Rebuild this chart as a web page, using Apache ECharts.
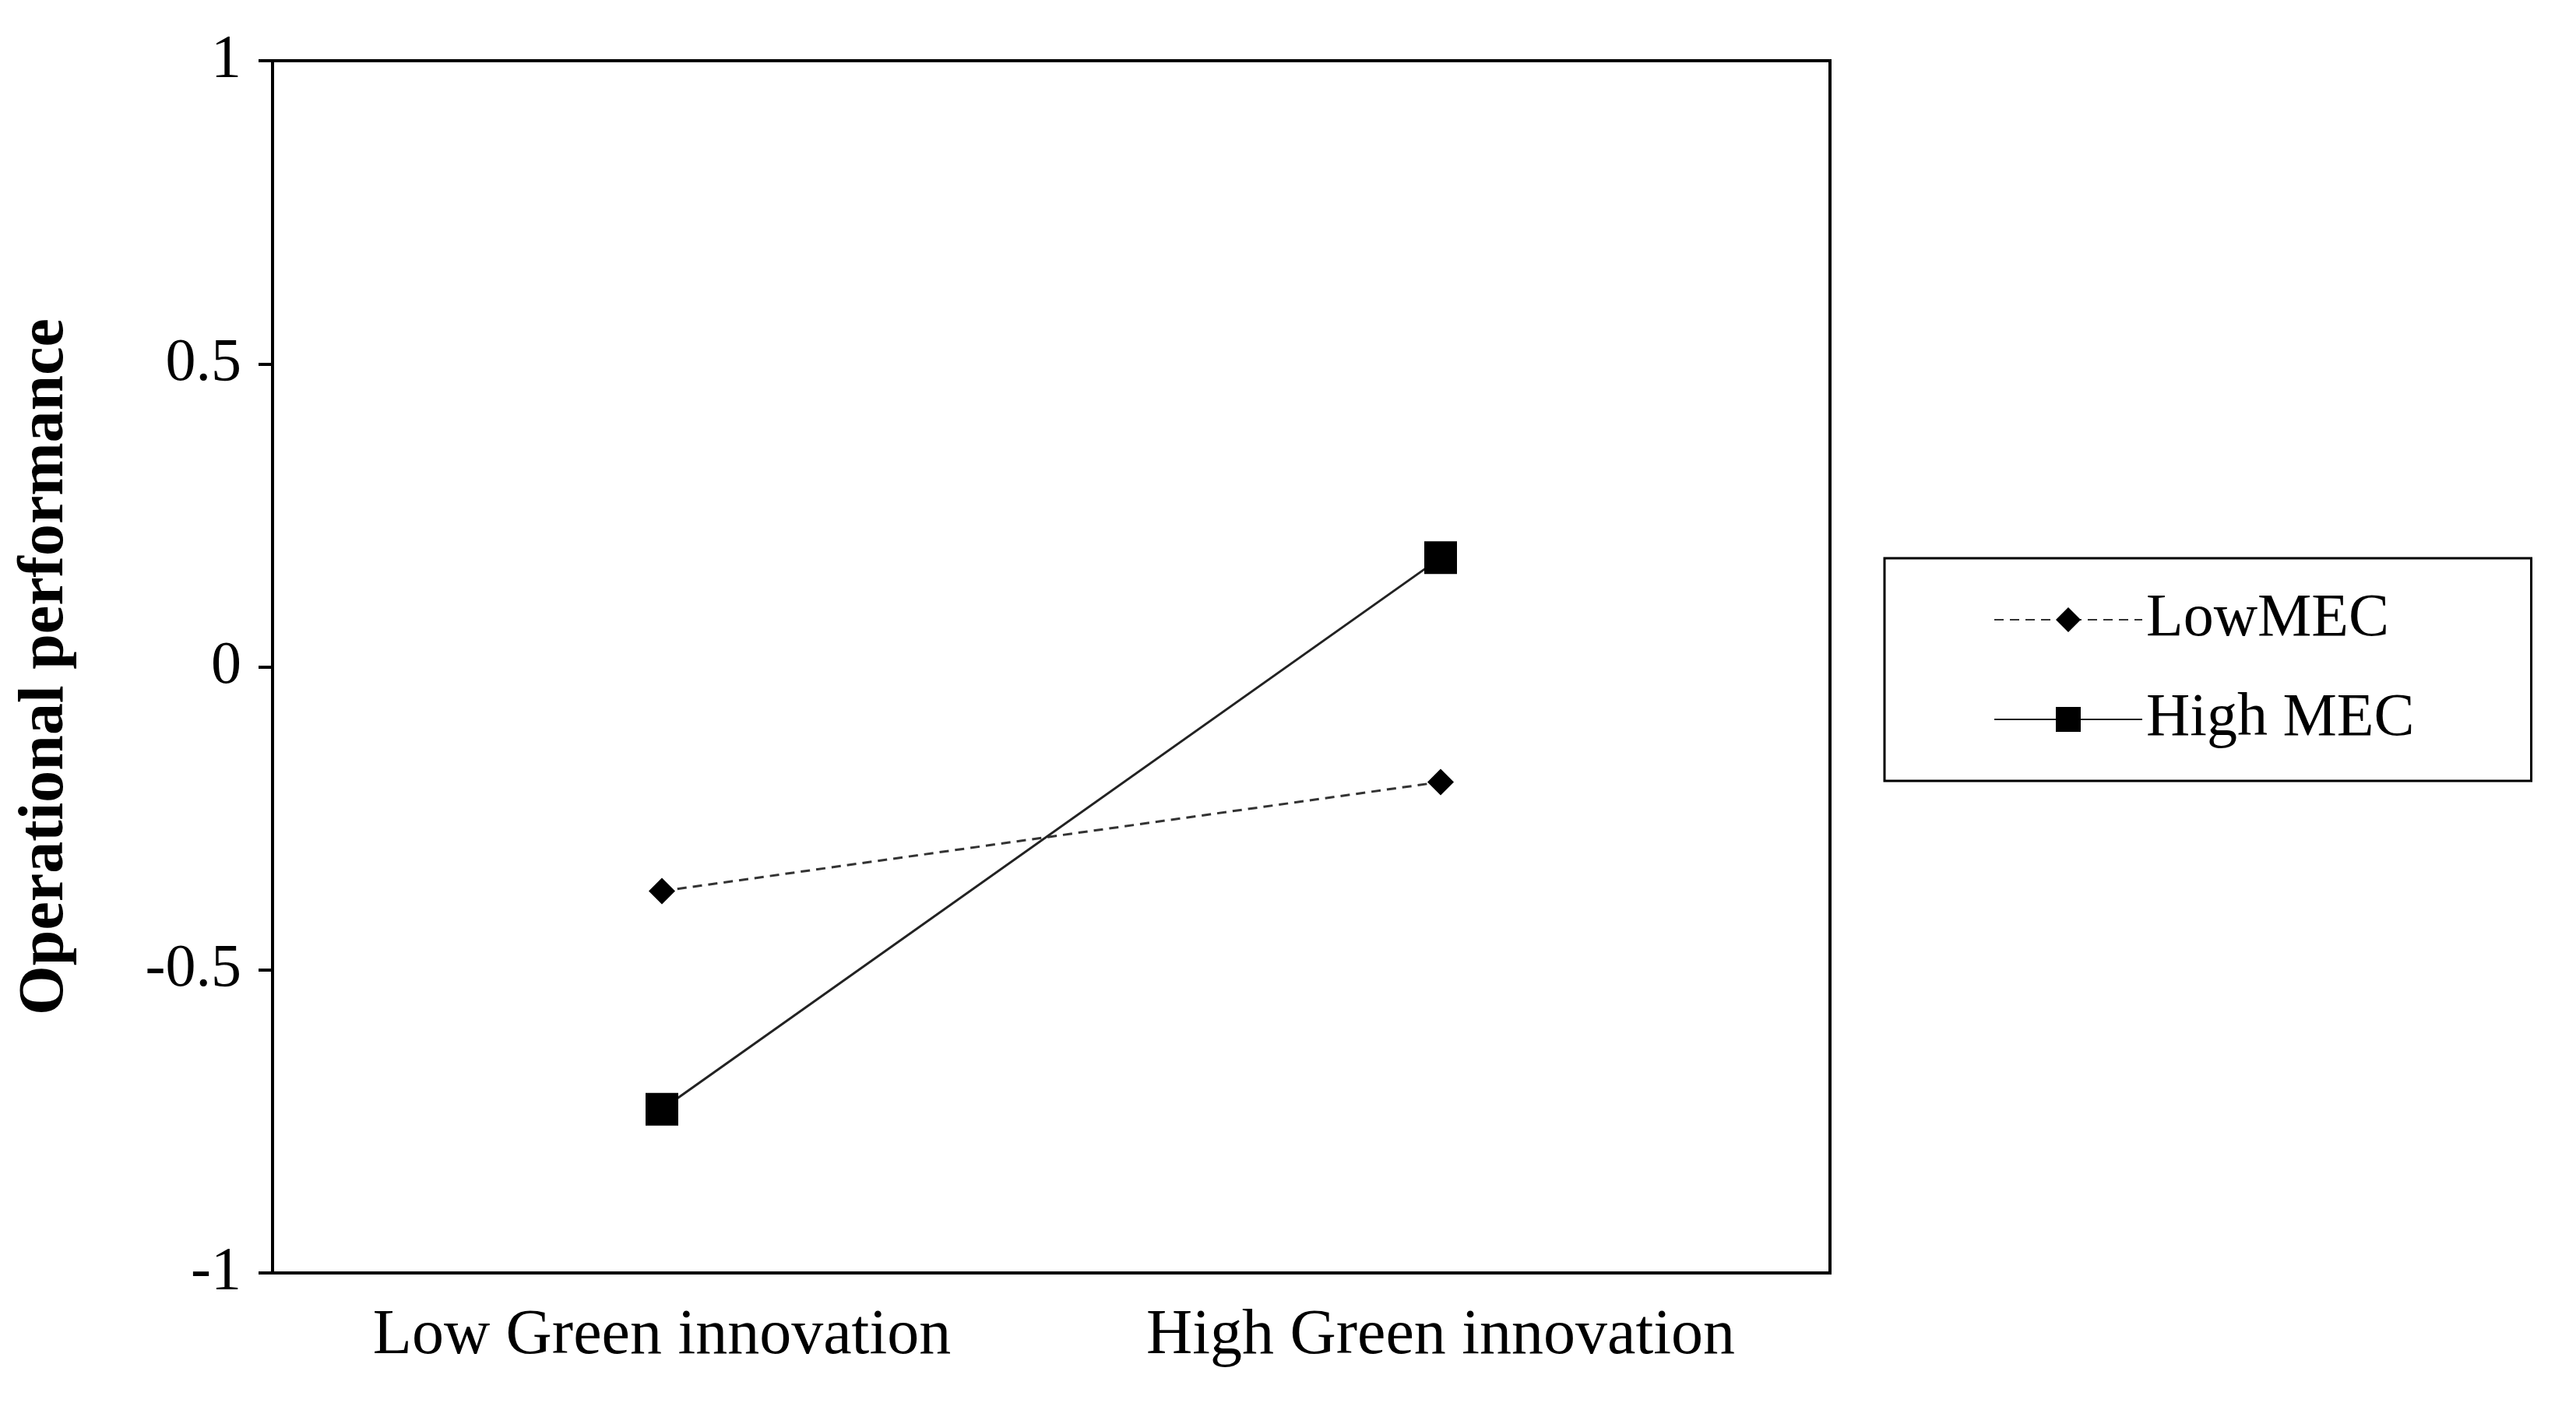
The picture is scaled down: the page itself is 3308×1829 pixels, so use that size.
<!DOCTYPE html>
<html>
<head>
<meta charset="utf-8">
<script src="https://cdn.jsdelivr.net/npm/echarts@6/dist/echarts.min.js"></script>
<style>html,body{margin:0;background:#fff}#chart{width:3308px;height:1829px}</style>
</head>
<body>
<div id="chart"></div>
<script>
var categories = ['Low Green innovation', 'High Green innovation'];
var lowMec = [-0.37, -0.19];
var highMec = [-0.73, 0.18];
var yTicks = [-1, -0.5, 0, 0.5, 1];

var chart = echarts.init(document.getElementById('chart'));
var font = 'Liberation Serif';

var option = {
  backgroundColor: '#fff',
  animation: false,
  grid: { left: 350, right: 958, top: 78, bottom: 194 },
  legend: {
    orient: 'vertical',
    left: 2420, top: 717,
    padding: [40, 150, 40, 140],
    itemGap: 50,
    itemWidth: 190, itemHeight: 40,
    borderColor: '#000', borderWidth: 3,
    textStyle: { fontFamily: font, fontSize: 78, color: '#000' },
    data: ['LowMEC', 'High MEC']
  },
  xAxis: {
    type: 'category',
    data: categories,
    boundaryGap: true,
    axisLine: { onZero: false, lineStyle: { color: '#000', width: 4 } },
    axisTick: { length: 18, lineStyle: { color: '#000', width: 4 } },
    axisLabel: { fontFamily: font, fontSize: 82, color: '#000', margin: 40 }
  },
  yAxis: {
    type: 'value',
    min: yTicks[0], max: yTicks[yTicks.length - 1], interval: 0.5,
    name: 'Operational performance',
    nameLocation: 'middle', nameGap: 250,
    nameTextStyle: { fontFamily: font, fontSize: 82, fontWeight: 'bold', color: '#000' },
    axisLine: { show: true, lineStyle: { color: '#000', width: 4 } },
    axisTick: { show: true, inside: false, length: 18, lineStyle: { color: '#000', width: 4 } },
    splitLine: { show: false },
    axisLabel: { fontFamily: font, fontSize: 78, color: '#000', margin: 40 }
  },
  graphic: [{
    type: 'rect', shape: { x: 350, y: 78, width: 2000, height: 1557 },
    style: { fill: 'none', stroke: '#000', lineWidth: 4 }, silent: true
  }],
  series: [
    {
      name: 'LowMEC', type: 'line', data: lowMec,
      symbol: 'diamond', symbolSize: 34,
      itemStyle: { color: '#000' },
      lineStyle: { color: '#333', width: 3, type: [12, 8] }
    },
    {
      name: 'High MEC', type: 'line', data: highMec,
      symbol: 'rect', symbolSize: 42,
      itemStyle: { color: '#000' },
      lineStyle: { color: '#222', width: 3 }
    }
  ]
};
option && chart.setOption(option);
</script>
</body>
</html>
